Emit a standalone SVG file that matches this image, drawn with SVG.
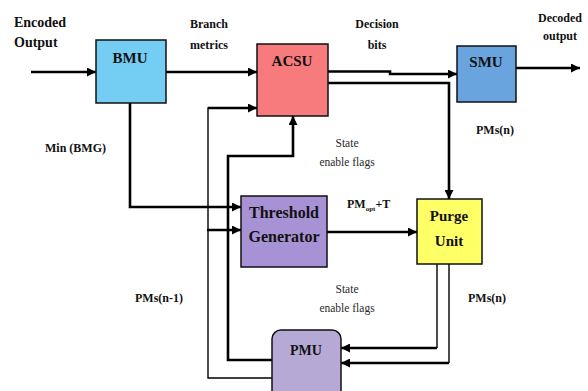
<svg xmlns="http://www.w3.org/2000/svg" width="588" height="391" viewBox="0 0 588 391" font-family="'Liberation Serif', 'DejaVu Serif', serif">
<style>
.box{stroke:#111;stroke-width:1.5}
text{font-family:'Liberation Serif','DejaVu Serif',serif;fill:#111}
.b{font-weight:bold}
.big{font-size:15px;font-weight:bold}
.lbl{font-size:12px;font-weight:bold}
.sm{font-size:11.5px;fill:#2a2a2a}
.c{text-anchor:middle}
.w{fill:none;stroke:#000;stroke-width:2.6}
.thin{fill:none;stroke:#000;stroke-width:1.4}
</style>
<defs>
<marker id="ah" markerUnits="userSpaceOnUse" markerWidth="9" markerHeight="9" refX="9" refY="4.5" orient="auto">
<path d="M0,0 L9,4.5 L0,9 z" fill="#000"/>
</marker>
</defs>
<rect width="588" height="391" fill="#fff"/>

<g id="connectors">
<path class="w" d="M31,72 H96" marker-end="url(#ah)"/>
<path class="w" d="M166,72 H257" marker-end="url(#ah)"/>
<path class="w" d="M328,71.5 H390 V74 H457" marker-end="url(#ah)"/>
<path class="w" d="M328,83 H449 V199" marker-end="url(#ah)"/>
<path class="w" d="M516,68 H580" marker-end="url(#ah)"/>
<path class="w" d="M130,103 V207 H241" marker-end="url(#ah)"/>
<path class="thin" d="M272,378 H208 V108 H220"/>
<path class="w" d="M208,108 H257" marker-end="url(#ah)"/>
<path class="w" d="M207,230 H241" marker-end="url(#ah)"/>
<path class="w" d="M272,360 H228 V156 H293 V116" marker-end="url(#ah)"/>
<path class="w" d="M327,232 H417" marker-end="url(#ah)"/>
<path class="thin" d="M437,264 V348"/>
<path class="w" d="M437,348 H341" marker-end="url(#ah)"/>
<path class="thin" d="M449,264 V363"/>
<path class="w" d="M449,363 H341" marker-end="url(#ah)"/>
</g>

<g id="bmu">
<rect class="box" x="96" y="40" width="70" height="63" fill="#74cdf2"/>
<text class="big c" x="130" y="63">BMU</text>
</g>
<g id="acsu">
<rect class="box" x="257" y="44" width="71" height="72" fill="#f77a7c"/>
<text class="big c" x="292" y="66">ACSU</text>
</g>
<g id="smu">
<rect class="box" x="457" y="46" width="59" height="56" fill="#6aa4de"/>
<text class="big c" x="486" y="67">SMU</text>
</g>
<g id="threshold">
<rect class="box" x="241" y="196" width="86" height="71" fill="#a892d6"/>
<text class="c" x="284" y="218" font-size="16" font-weight="bold">Threshold</text>
<text class="c" x="284" y="242" font-size="16" font-weight="bold">Generator</text>
</g>
<g id="purge">
<rect class="box" x="417" y="199" width="65" height="65" fill="#ffff66"/>
<text class="big c" x="449" y="221">Purge</text>
<text class="big c" x="449" y="246">Unit</text>
</g>
<g id="pmu">
<rect class="box" x="272" y="330" width="69" height="75" rx="9" fill="#b6a9d6"/>
<text class="c" x="306" y="355" font-size="14" font-weight="bold">PMU</text>
</g>

<g id="labels">
<text class="b" x="14" y="27" font-size="14">Encoded</text>
<text class="b" x="14" y="47" font-size="14">Output</text>
<text class="lbl" x="190" y="28">Branch</text>
<text class="lbl" x="190" y="49">metrics</text>
<text class="lbl c" x="377" y="28">Decision</text>
<text class="lbl c" x="377" y="49">bits</text>
<text class="lbl c" x="560" y="22">Decoded</text>
<text class="lbl c" x="560" y="40">output</text>
<text class="lbl" x="45" y="152">Min (BMG)</text>
<text class="lbl" x="476" y="134">PMs(n)</text>
<text class="sm c" x="347" y="147">State</text>
<text class="sm c" x="347" y="166">enable flags</text>
<text class="lbl" x="347" y="208">PM<tspan font-size="7" dy="3">opt</tspan><tspan dy="-3">+T</tspan></text>
<text class="lbl" x="135" y="302">PMs(n-1)</text>
<text class="sm c" x="347" y="293">State</text>
<text class="sm c" x="347" y="312">enable flags</text>
<text class="lbl" x="468" y="302">PMs(n)</text>
</g>
</svg>
